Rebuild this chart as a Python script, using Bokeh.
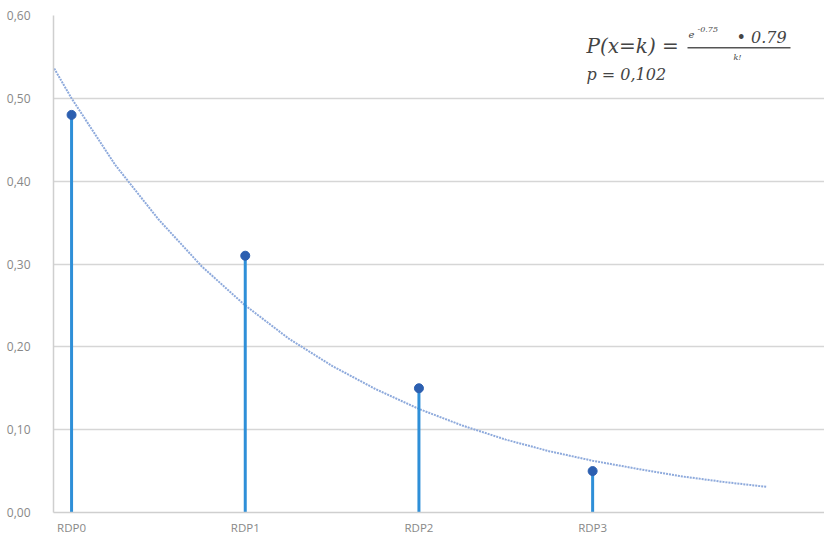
from bokeh.plotting import figure
from bokeh.models import Range1d, FixedTicker, CustomJSTickFormatter, Label, BoxAnnotation
from bokeh.embed import file_html
from bokeh.resources import INLINE

# ---- data ----
categories = ["RDP0", "RDP1", "RDP2", "RDP3"]
values = [0.48, 0.31, 0.15, 0.05]
# exponential trendline
trend_x = [-0.10, 0.0, 0.25, 0.5, 0.75, 1.0, 1.25, 1.5, 1.75, 2.0, 2.25, 2.5, 2.75, 3.0, 3.25, 3.5, 3.75, 4.0]
trend_y = [0.536, 0.500, 0.420, 0.354, 0.297, 0.250, 0.210, 0.177, 0.149, 0.125, 0.105, 0.088, 0.074, 0.0625, 0.053, 0.044, 0.037, 0.031]
y_ticks = [0.0, 0.1, 0.2, 0.3, 0.4, 0.5, 0.6]
formula_lhs = "P(x=k) ="
formula_e = "e"
formula_exp = "-0.75"
formula_num = "\u2022 0.79"
formula_den = "k!"
formula_p = "p = 0,102"

xs = list(range(len(categories)))

W, H = 824, 538
FL, FB = 53, 512  # frame left / bottom in page pixels (for screen-unit annotations)
p = figure(width=W, height=H, output_backend="svg", toolbar_location=None,
           x_range=Range1d(-0.104, 4.335), y_range=Range1d(0, 0.6),
           min_border_left=FL, min_border_right=0, min_border_top=15, min_border_bottom=H - FB)
p.outline_line_color = None
p.background_fill_color = "white"

# grid
p.xgrid.grid_line_color = None
p.ygrid.grid_line_color = "#d6d6d6"
p.ygrid.grid_line_width = 1.5
p.yaxis.ticker = FixedTicker(ticks=y_ticks)
p.yaxis.formatter = CustomJSTickFormatter(code="return tick.toFixed(2).replace('.', ',');")
p.xaxis.ticker = FixedTicker(ticks=xs)
p.xaxis.major_label_overrides = {i: c for i, c in zip(xs, categories)}

for ax in (p.xaxis[0], p.yaxis[0]):
    ax.axis_line_color = "#cfcfcf"
    ax.axis_line_width = 1.5
    ax.major_tick_line_color = None
    ax.minor_tick_line_color = None
    ax.major_label_text_color = "#888888"
    ax.major_label_text_font = "Open Sans"
    ax.major_label_text_font_size = "12px"
p.xaxis.major_label_text_font_size = "11.5px"
p.yaxis.major_label_standoff = 17
p.xaxis.major_label_standoff = 1

# trendline
p.line(trend_x, trend_y, line_color="#8eaadc", line_width=2, line_dash="2 1")

# stems
p.segment(x0=xs, y0=[0] * len(xs), x1=xs, y1=values, line_color="#2e8fd8", line_width=3)
p.scatter(xs, values, size=9, fill_color="#2c5fb0", line_color="#2c5fb0")

# formula (screen coords relative to frame: x = page_x - FL, y = FB - page_y)
def lab(px, py, text, size):
    p.add_layout(Label(x=px - FL, y=FB - py, text=text, x_units="screen", y_units="screen",
                       text_font="DejaVu Serif", text_font_style="italic",
                       text_color="#444444", text_baseline="middle", text_font_size=size))

lab(586, 45, formula_lhs, "20px")
lab(688, 34, formula_e, "10px")
lab(697, 29, formula_exp, "8px")
lab(736, 37, formula_num, "16px")
lab(733, 57, formula_den, "8px")
lab(586, 74, formula_p, "16px")
p.add_layout(BoxAnnotation(left=687 - FL, right=790 - FL, top=FB - 46.5, bottom=FB - 48,
                           left_units="screen", right_units="screen",
                           top_units="screen", bottom_units="screen",
                           fill_color="#555555", fill_alpha=1, line_color=None))

open("out.html", "w").write(file_html(p, INLINE))
